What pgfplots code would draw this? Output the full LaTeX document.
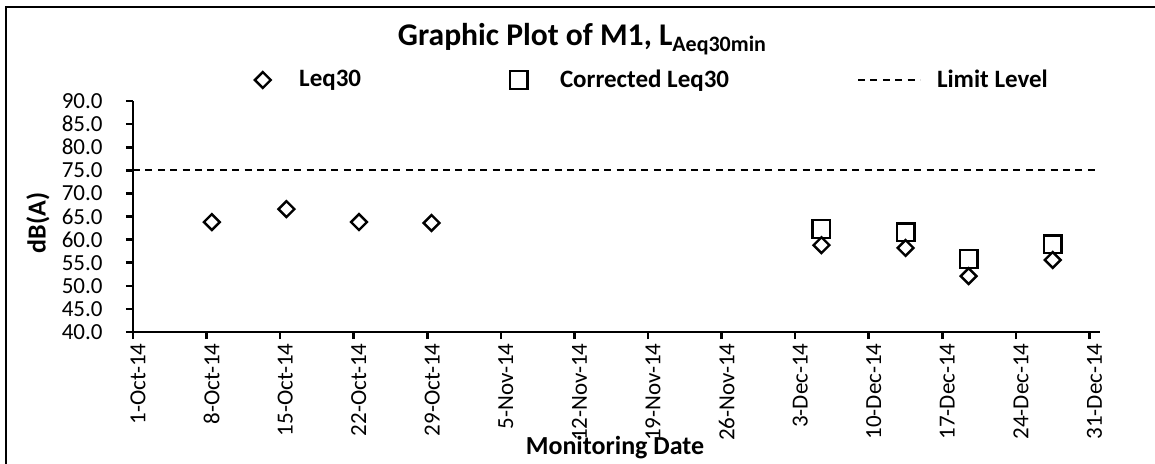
\documentclass[border=0pt]{standalone}
\usepackage{fontspec}
\setmainfont{Carlito}
\usepackage{pgfplots}
\pgfplotsset{compat=1.18}
\pgfplotsset{
  legA/.style={legend image code/.code={\path (-5pt,0) (18pt,0); \draw[##1] plot coordinates {(0pt,0pt)};}},
  legB/.style={legend image code/.code={\path (-5pt,0) (20.5pt,0); \draw[##1] plot coordinates {(0pt,0pt)};}},
  legC/.style={legend image code/.code={\draw[##1] (0pt,0pt) -- (31pt,0pt); \path (39pt,0pt);}},
}
\begin{document}
\begin{tikzpicture}
\useasboundingbox (0,0) rectangle (577.5pt,231.5pt);
\draw[line width=1pt] (3pt,-2pt) -- (3pt,228pt) -- (580pt,228pt);
\begin{axis}[
  at={(66.5pt,65.5pt)}, anchor=south west,
  scale only axis, width=483.5pt, height=115.5pt,
  xmin=0, xmax=92, ymin=40, ymax=90,
  clip=false,
  axis x line*=bottom, axis y line*=left,
  axis line style={line width=1.3pt, black},
  every tick/.style={black, line width=1.3pt},
  tick align=outside, major tick length=3.5pt,
  xtick={0,7,...,91},
  xticklabels={1-Oct-14,8-Oct-14,15-Oct-14,22-Oct-14,29-Oct-14,5-Nov-14,12-Nov-14,19-Nov-14,26-Nov-14,3-Dec-14,10-Dec-14,17-Dec-14,24-Dec-14,31-Dec-14},
  ytick={40,45,...,90},
  /pgf/number format/assume math mode=true,
  yticklabel style={/pgf/number format/fixed, /pgf/number format/fixed zerofill, /pgf/number format/precision=1, font=\fontsize{11.5}{13}\selectfont, inner sep=0pt, anchor=east, xshift=-11.5pt},
  xticklabel style={rotate=90, anchor=east, font=\fontsize{11.5}{13}\selectfont, inner sep=0pt, xshift=-2pt, yshift=-2.5pt},
  title={\bfseries\fontsize{15.8}{18}\selectfont Graphic Plot of M1, L\raisebox{-3pt}{\fontsize{11}{13}\selectfont Aeq30min}},
  title style={at={(axis description cs:0.4643,1.1905)}, anchor=base, inner sep=0pt},
  ylabel={dB(A)},
  ylabel style={at={(axis description cs:-0.0982,0.4719)}, anchor=center, font=\bfseries\fontsize{13}{15}\selectfont, inner sep=0pt},
  xlabel={Monitoring Date},
  xlabel style={at={(axis description cs:0.4984,-0.532)}, anchor=base, font=\bfseries\fontsize{13}{15}\selectfont, inner sep=0pt},
  legend columns=3,
  legend cell align=left,
  legend style={draw=none, fill=none, inner sep=0pt, column sep=0pt,
    nodes={inner sep=0pt}, font=\bfseries\fontsize{12.5}{15}\selectfont,
    at={(axis description cs:0.12306,1.0909)}, anchor=west},
]
\addplot[only marks, mark=square, mark size=2.8pt, mark options={rotate=45, line width=1.2pt, draw=black, fill=none}, legA]
  coordinates {(7.5,63.8) (14.6,66.6) (21.5,63.8) (28.4,63.6) (65.5,58.8) (73.5,58.2) (79.5,52.1) (87.5,55.6)};
\addlegendentry{\makebox[104.5pt][l]{Leq30}}
\addplot[only marks, mark=square, mark size=4.4pt, mark options={line width=1.2pt, draw=black, fill=none}, legB]
  coordinates {(65.5,62.3) (73.5,61.6) (79.5,55.8) (87.5,59.0)};
\addlegendentry{\makebox[148.5pt][l]{Corrected Leq30}}
\addplot[black, line width=1pt, dash pattern=on 3.5pt off 2.7pt, legC]
  coordinates {(0,75) (92,75)};
\addlegendentry{Limit Level}
\end{axis}
\end{tikzpicture}
\end{document}
